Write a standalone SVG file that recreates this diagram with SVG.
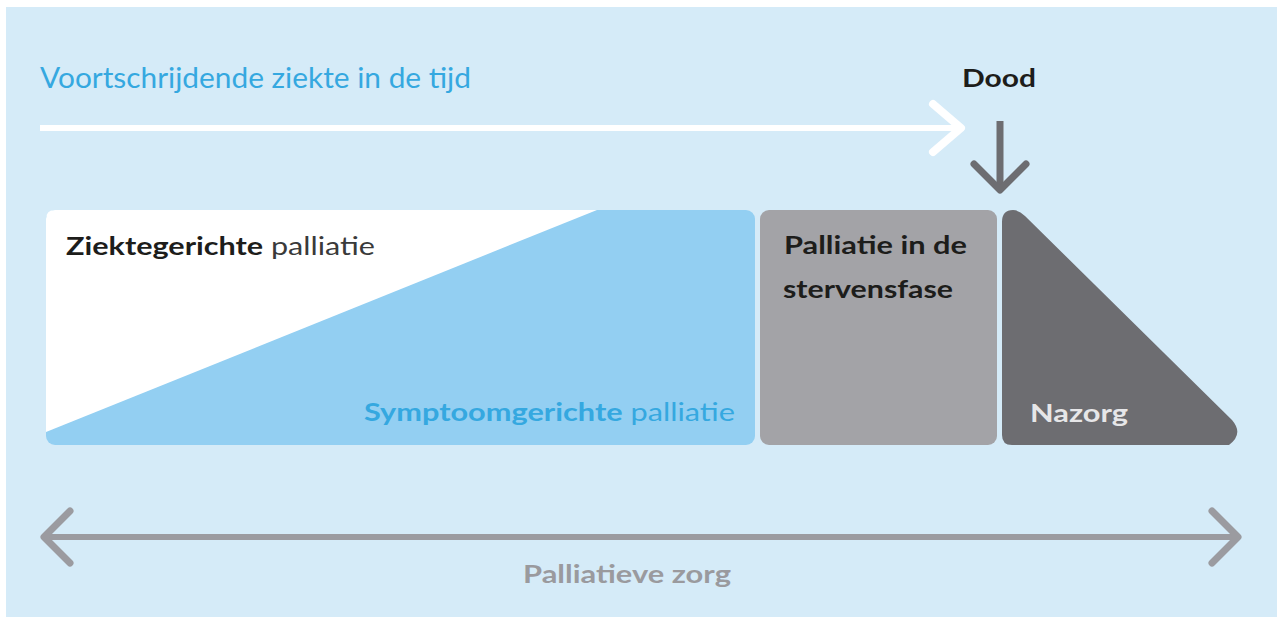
<svg xmlns="http://www.w3.org/2000/svg" width="1277" height="621" viewBox="0 0 1277 621">
  <defs>
    <style>
      .t { font-family: Lato, "Open Sans", "Liberation Sans", sans-serif; }
      .b { font-weight: 700; }
      .r { font-weight: 400; }
      .dark { fill: #1d1d1b; }
      .blue { fill: #35a8e0; }
      .chev { fill: none; stroke-linecap: round; stroke-linejoin: round; }
    </style>
  </defs>

  <!-- page and panel -->
  <rect x="0" y="0" width="1277" height="621" fill="#ffffff"/>
  <rect x="6" y="7" width="1271" height="610" fill="#d5ebf8"/>

  <!-- time caption -->
  <text class="t r blue" x="40" y="88" font-size="29" textLength="431" lengthAdjust="spacingAndGlyphs">Voortschrijdende ziekte in de tijd</text>

  <!-- phase: disease / symptom oriented palliation -->
  <g id="node-palliatie">
    <rect x="46" y="210" width="709" height="235" rx="9" fill="#93cff2"/>
    <path d="M55,210 L597,210 L46,432 L46,219 Q46,210 55,210 Z" fill="#ffffff"/>
    <text class="t" x="66" y="255" font-size="25" textLength="309" lengthAdjust="spacingAndGlyphs"><tspan class="b dark">Ziektegerichte</tspan><tspan class="r" fill="#3a3a3a"> palliatie</tspan></text>
    <text class="t blue" x="364" y="421" font-size="25" textLength="371" lengthAdjust="spacingAndGlyphs"><tspan class="b">Symptoomgerichte</tspan><tspan class="r"> palliatie</tspan></text>
  </g>

  <!-- phase: dying -->
  <g id="node-stervensfase">
    <rect x="760" y="210" width="237" height="235" rx="9" fill="#a3a3a7"/>
    <text class="t b dark" x="784" y="254" font-size="25" textLength="183" lengthAdjust="spacingAndGlyphs">Palliatie in de</text>
    <text class="t b dark" x="783" y="298" font-size="25" textLength="170" lengthAdjust="spacingAndGlyphs">stervensfase</text>
  </g>

  <!-- phase: aftercare -->
  <g id="node-nazorg">
    <path d="M1002,222 Q1002,210 1013,210 Q1019,210 1025,216 L1232,420 Q1244,434 1229,445 L1012,445 Q1002,445 1002,435 Z" fill="#6d6d71"/>
    <text class="t b" x="1030" y="422" font-size="25" fill="#e6e6e8" textLength="98" lengthAdjust="spacingAndGlyphs">Nazorg</text>
  </g>

  <!-- death marker -->
  <g id="node-dood">
    <text class="t b dark" x="962" y="87" font-size="25" textLength="74" lengthAdjust="spacingAndGlyphs">Dood</text>
  </g>

  <g id="connectors">
    <!-- progression arrow -->
    <line x1="40" y1="128" x2="958" y2="128" stroke="#ffffff" stroke-width="6"/>
    <polyline class="chev" points="933,104 961,128 933,152" stroke="#ffffff" stroke-width="8"/>
    <!-- arrow pointing at death -->
    <line x1="1000" y1="121" x2="1000" y2="188" stroke="#6d6d71" stroke-width="7"/>
    <polyline class="chev" points="974,164 1000,190 1026,164" stroke="#6d6d71" stroke-width="7"/>
    <!-- palliative care span -->
    <line x1="44" y1="537" x2="1238" y2="537" stroke="#9b9ba0" stroke-width="6"/>
    <polyline class="chev" points="70,511 44,537 70,563" stroke="#9b9ba0" stroke-width="7"/>
    <polyline class="chev" points="1212,511 1238,537 1212,563" stroke="#9b9ba0" stroke-width="7"/>
  </g>

  <text class="t b" x="523" y="583" font-size="25" fill="#9a9a9e" textLength="208" lengthAdjust="spacingAndGlyphs">Palliatieve zorg</text>
</svg>
